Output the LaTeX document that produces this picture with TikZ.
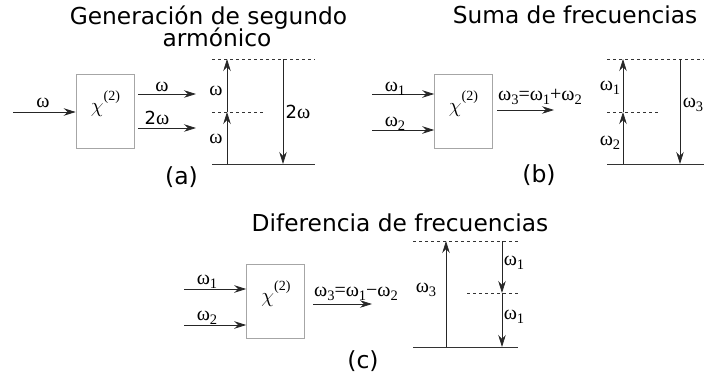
\documentclass[tikz,border=0pt]{standalone}
\usepackage{fontspec}
\setmainfont{DejaVu Sans}
\newfontfamily\gk{Liberation Serif}
\usetikzlibrary{arrows.meta}
\newcommand\sbs[1]{\raisebox{-0.2em}{\fontsize{14.5}{14.5}\selectfont #1}}
\newcommand\sps[1]{\raisebox{0.6em}{\fontsize{14}{14}\selectfont #1}}
\newcommand\omsub[1]{ω\sbs{#1}}
\newcommand\two{{\fontspec{DejaVu Sans}\fontsize{18}{18}\selectfont 2}}
\newcommand\chisym{$\chi$\sps{(2)}}
\tikzset{
  ttl/.style={font=\fontsize{23.3}{23.3}\selectfont, inner sep=0pt, anchor=base},
  captxt/.style={font=\fontsize{23.5}{23.5}\selectfont, inner sep=0pt, anchor=base},
  lbl/.style={font=\gk\fontsize{20}{20}\selectfont, inner sep=0pt, anchor=base},
  chibox/.style={draw=black!35, line width=0.6pt, minimum width=58pt, minimum height=74pt, inner sep=0pt},
  chi/.style={font=\gk\fontsize{20}{20}\selectfont, inner sep=0pt, anchor=base},
  arr/.style={draw=black!85, line width=0.75pt, -{Stealth[length=12pt,width=7.5pt,inset=4pt]}},
  lvl/.style={draw=black!80, line width=0.75pt},
  dsh/.style={draw=black!80, line width=0.6pt, dash pattern=on 3pt off 3pt},
}
\begin{document}
\begin{tikzpicture}[x=1pt,y=-1pt]
\useasboundingbox (0,0) rectangle (704,381);
% ---------------- (a)
\node[ttl] (ta1) at (208.5,24.5) {Generación de segundo};
\node[ttl] (ta2) at (217,46.5) {armónico};
\node[chibox] (boxa) at (105,111) {};
\node[chi] (chia) at (105.5,112) {\chisym};
\coordinate (ain) at (13,112);
\draw[arr] (ain) -- (ain -| boxa.west);
\node[lbl] (la0) at (43,107) {ω};
\coordinate (ao1s) at (138,94);
\coordinate (ao1e) at (196,94);
\draw[arr] (ao1s) -- (ao1e);
\node[lbl] (la1) at (162,91) {ω};
\coordinate (ao2s) at (138,128);
\coordinate (ao2e) at (196,128);
\draw[arr] (ao2s) -- (ao2e);
\node[lbl] (la2) at (157,124) {\two ω};
% energy (a)
\coordinate (aTL) at (212,59); \coordinate (aTR) at (315,59);
\coordinate (aML) at (212,112); \coordinate (aMR) at (263,112);
\coordinate (aBL) at (212,164); \coordinate (aBR) at (315,164);
\draw[dsh] (aTL) -- (aTR);
\draw[dsh] (aML) -- (aMR);
\draw[lvl] (aBL) -- (aBR);
\coordinate (aU0) at (227,164); \coordinate (aU1) at (227,112); \coordinate (aU2) at (227,59);
\draw[arr] (aU0) -- (aU1);
\draw[arr] (aU1) -- (aU2);
\coordinate (aD0) at (283,59); \coordinate (aD1) at (283,164);
\draw[arr] (aD0) -- (aD1);
\node[lbl] (lae1) at (216,95) {ω};
\node[lbl] (lae2) at (216,143) {ω};
\node[lbl] (lae3) at (298,118) {\two ω};
\node[captxt] (capa) at (181.5,184) {(a)};
% ---------------- (b)
\node[ttl] (tb) at (575,23) {Suma de frecuencias};
\node[chibox] (boxb) at (463.5,111.5) {};
\node[chi] (chib) at (463.5,112) {\chisym};
\coordinate (bin1) at (372,94);
\coordinate (bin2) at (372,130);
\draw[arr] (bin1) -- (bin1 -| boxb.west);
\draw[arr] (bin2) -- (bin2 -| boxb.west);
\node[lbl] (lb1) at (395,91) {\omsub{1}};
\node[lbl] (lb2) at (395,126) {\omsub{2}};
\coordinate (bos) at (497,110); \coordinate (boe) at (554,110);
\draw[arr] (bos) -- (boe);
\node[lbl] (lb3) at (540,100) {\omsub{3}=\omsub{1}+\omsub{2}};
\coordinate (bTL) at (607,59); \coordinate (bTR) at (704,59);
\coordinate (bML) at (607,112); \coordinate (bMR) at (659,112);
\coordinate (bBL) at (607,164); \coordinate (bBR) at (704,164);
\draw[dsh] (bTL) -- (bTR);
\draw[dsh] (bML) -- (bMR);
\draw[lvl] (bBL) -- (bBR);
\coordinate (bU0) at (623,164); \coordinate (bU1) at (623,112); \coordinate (bU2) at (623,59);
\draw[arr] (bU0) -- (bU1);
\draw[arr] (bU1) -- (bU2);
\coordinate (bD0) at (680,59); \coordinate (bD1) at (680,164);
\draw[arr] (bD0) -- (bD1);
\node[lbl] (lbe1) at (610,90) {\omsub{1}};
\node[lbl] (lbe2) at (610,145) {\omsub{2}};
\node[lbl] (lbe3) at (693,107) {\omsub{3}};
\node[captxt] (capb) at (539,182) {(b)};
% ---------------- (c)
\node[ttl] (tc) at (400,231) {Diferencia de frecuencias};
\node[chibox] (boxc) at (275.5,301.5) {};
\node[chi] (chic) at (276,302) {\chisym};
\coordinate (cin1) at (184,289);
\coordinate (cin2) at (184,325);
\draw[arr] (cin1) -- (cin1 -| boxc.west);
\draw[arr] (cin2) -- (cin2 -| boxc.west);
\node[lbl] (lc1) at (207,284) {\omsub{1}};
\node[lbl] (lc2) at (207,320) {\omsub{2}};
\coordinate (cos) at (313,304); \coordinate (coe) at (372,304);
\draw[arr] (cos) -- (coe);
\node[lbl] (lc3) at (356,296) {\omsub{3}=\omsub{1}−\omsub{2}};
\coordinate (cTL) at (413,241); \coordinate (cTR) at (518,241);
\coordinate (cML) at (467,293); \coordinate (cMR) at (518,293);
\coordinate (cBL) at (413,347); \coordinate (cBR) at (518,347);
\draw[dsh] (cTL) -- (cTR);
\draw[dsh] (cML) -- (cMR);
\draw[lvl] (cBL) -- (cBR);
\coordinate (cU0) at (446,347); \coordinate (cU1) at (446,241);
\draw[arr] (cU0) -- (cU1);
\coordinate (cD0) at (502,241); \coordinate (cD1) at (502,293); \coordinate (cD2) at (502,347);
\draw[arr] (cD0) -- (cD1);
\draw[arr] (cD1) -- (cD2);
\node[lbl] (lce3) at (426,292) {\omsub{3}};
\node[lbl] (lce1) at (514,265) {\omsub{1}};
\node[lbl] (lce2) at (514,319) {\omsub{1}};
\node[captxt] (capc) at (363,368) {(c)};
\end{tikzpicture}
\end{document}
